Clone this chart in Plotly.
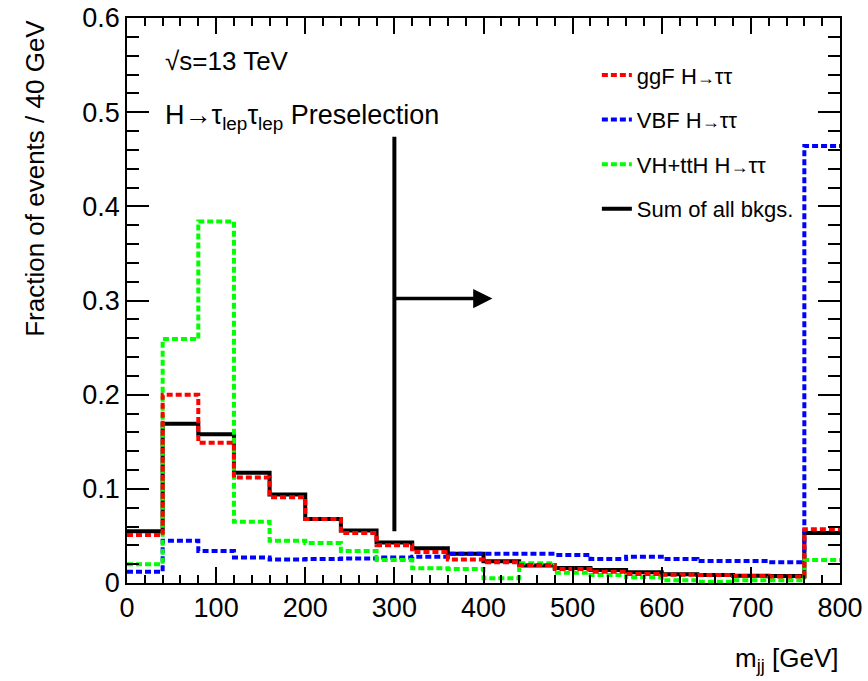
import numpy as np
import plotly.graph_objects as go

# ---- data (fraction of events per 40 GeV bin, m_jj from 0 to 800 GeV) ----
bin_edges = np.arange(0, 801, 40)
sum_bkg = [0.055, 0.169, 0.158, 0.117, 0.094, 0.068, 0.0557, 0.043, 0.037, 0.031,
           0.023, 0.0185, 0.016, 0.0138, 0.0114, 0.0092, 0.0085, 0.0078, 0.0074, 0.053]
ggf = [0.051, 0.200, 0.149, 0.112, 0.091, 0.068, 0.053, 0.040, 0.033, 0.025,
       0.022, 0.019, 0.015, 0.012, 0.0096, 0.0087, 0.0085, 0.0074, 0.007, 0.057]
vbf = [0.012, 0.045, 0.034, 0.027, 0.025, 0.0255, 0.026, 0.027, 0.028, 0.031,
       0.031, 0.031, 0.0298, 0.0255, 0.028, 0.0255, 0.0234, 0.0234, 0.022, 0.464]
vh_tth = [0.020, 0.259, 0.384, 0.065, 0.045, 0.0425, 0.034, 0.0245, 0.0156, 0.015,
          0.005, 0.021, 0.011, 0.0085, 0.006, 0.003, 0.0014, 0.003, 0.003, 0.0245]

cut_value = 300
cut_line_y = [0.055, 0.474]
arrow_y = 0.302
arrow_end = 410

FONT = "Liberation Sans, Arial, Helvetica, sans-serif"
ARROW = '<span style="font-size:18px">→</span>'


def step_xy(vals):
    x = list(bin_edges)
    y = list(vals) + [vals[-1]]
    return x, y


fig = go.Figure()

series = [
    ("Sum of all bkgs.", sum_bkg, "black", "solid", 4, 4),
    ("VBF H" + ARROW + "ττ", vbf, "#0000ff", "6px,3px", 4, 2),
    ("VH+ttH H" + ARROW + "ττ", vh_tth, "#00ff00", "6px,3px", 4, 3),
    ("ggF H" + ARROW + "ττ", ggf, "#ff0000", "6px,3px", 4, 1),
]
for name, vals, color, dash, width, rank in series:
    x, y = step_xy(vals)
    fig.add_trace(go.Scatter(
        x=x, y=y, mode="lines", name=name,
        line=dict(color=color, dash=dash, width=width, shape="hv"),
        legendrank=rank, legendgroup=name, hoverinfo="skip",
    ))

# cut line and arrow
fig.add_shape(type="line", x0=cut_value, x1=cut_value, y0=cut_line_y[0], y1=cut_line_y[1],
              xref="x", yref="y", line=dict(color="black", width=4))
fig.add_annotation(x=arrow_end, y=arrow_y, ax=cut_value, ay=arrow_y, xref="x", yref="y",
                   axref="x", ayref="y", text="", showarrow=True, arrowhead=2,
                   arrowsize=1.1, arrowwidth=3.5, arrowcolor="black")

# labels
fig.add_annotation(x=40.4, y=0.554, xref="x", yref="y", xanchor="left", yanchor="middle",
                   text="√s=13 TeV", showarrow=False, font=dict(size=26, color="black", family=FONT))
fig.add_annotation(x=40.4, y=0.495, xref="x", yref="y", xanchor="left", yanchor="middle",
                   text="H→τ<sub>lep</sub>τ<sub>lep</sub> Preselection", showarrow=False,
                   font=dict(size=27, color="black", family=FONT))
fig.add_annotation(x=-0.13, y=1.0, xref="paper", yref="paper", xanchor="center", yanchor="top",
                   text="Fraction of events / 40 GeV", textangle=-90, showarrow=False,
                   font=dict(size=26, color="black", family=FONT))
fig.add_annotation(x=1.0, y=-0.135, xref="paper", yref="paper", xanchor="right", yanchor="middle",
                   text="m<sub>jj</sub> [GeV]", showarrow=False,
                   font=dict(size=26, color="black", family=FONT))

axis_common = dict(showline=True, linecolor="black", linewidth=1.5, mirror="allticks",
                   ticks="inside", tickcolor="black", tickwidth=1.5, showgrid=False,
                   zeroline=False, automargin=False, ticklabeloverflow="allow",
                   tickfont=dict(size=27, color="black", family=FONT))
fig.update_xaxes(range=[0, 800], dtick=100, tick0=0, ticklen=16,
                 minor=dict(dtick=20, ticklen=8, ticks="inside", tickcolor="black",
                            tickwidth=1.5, showgrid=False),
                 **axis_common)
fig.update_yaxes(range=[0, 0.6], dtick=0.1, tick0=0, ticklen=22,
                 minor=dict(dtick=0.02, ticklen=12, ticks="inside", tickcolor="black",
                            tickwidth=1.5, showgrid=False),
                 **axis_common)

fig.update_layout(
    width=868, height=681,
    margin=dict(l=127, r=28, t=18, b=98, autoexpand=False),
    paper_bgcolor="white", plot_bgcolor="white",
    font=dict(family=FONT, color="black"),
    showlegend=True,
    legend=dict(x=0.659, y=0.936, xanchor="left", yanchor="top", bgcolor="rgba(0,0,0,0)",
                font=dict(size=22, color="black", family=FONT), tracegroupgap=13,
                traceorder="grouped"),
)

# remove the default 8px page margin so the figure fills the window exactly
fig.write_html("out.html", config={"displayModeBar": False},
               post_script="document.body.style.margin='0px';")
